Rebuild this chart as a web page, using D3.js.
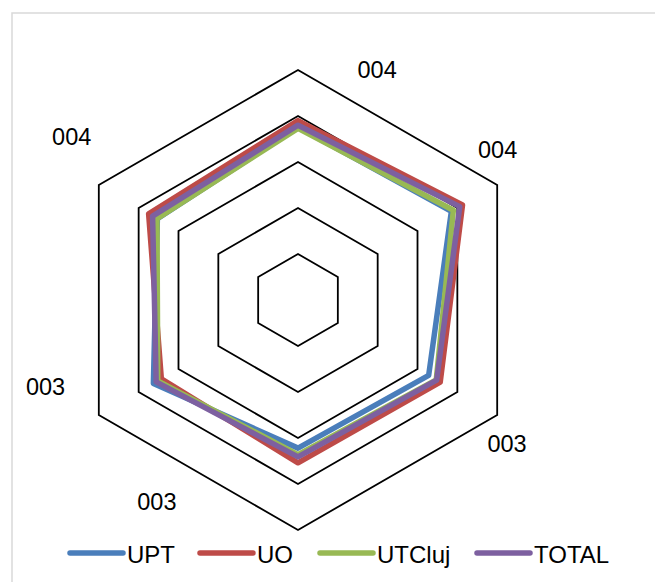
<!DOCTYPE html>
<html><head><meta charset="utf-8">
<script src="https://cdn.jsdelivr.net/npm/d3@7"></script>
<style>
html,body{margin:0;padding:0;background:#fff;}
svg{display:block;font-family:"Liberation Sans",Arial,sans-serif;}
</style></head>
<body><svg id="c" width="655" height="582"></svg>
<script>
// ---- data ----
const categories = ["004", "004", "003", "003", "003", "004"];
const seriesNames = ["UPT", "UO", "UTCluj", "TOTAL"];
const upt    = [3.76, 3.85, 3.28, 3.22, 3.63, 3.53];
const uo     = [3.90, 4.13, 3.57, 3.54, 3.43, 3.75];
const utcluj = [3.73, 3.90, 3.47, 3.36, 3.52, 3.54];
const total  = [3.80, 4.06, 3.48, 3.41, 3.56, 3.65];
const gridTicks = [1, 2, 3, 4, 5];
const colors = ["#4a7ebb", "#be4b48", "#98b954", "#7d60a0"];

// ---- layout ----
const W = 655, H = 582;
const cx = 298, cy = 300, R = 230;
// label placement: [angle (deg, clockwise from up), distance]
const labelPlace = [[19, 243], [53, 250], [124.6, 254], [215, 246], [251, 267], [305.8, 279]];

const svg = d3.select("#c");
svg.append("rect").attr("x", 12).attr("y", 13).attr("width", W).attr("height", H)
  .attr("fill", "#fff").attr("stroke", "#d9d9d9").attr("stroke-width", 1.5);

const r = d3.scaleLinear().domain([0, 5]).range([0, R]);
const n = categories.length;
const ang = d3.scaleLinear().domain([0, n]).range([0, 2 * Math.PI]);

const g = svg.append("g").attr("transform", `translate(${cx},${cy})`);
const radial = d3.lineRadial().angle((d, i) => ang(i)).radius(d => r(d)).curve(d3.curveLinearClosed);

// grid rings
g.selectAll(".ring").data(gridTicks).join("path")
  .attr("d", t => radial(categories.map(() => t)))
  .attr("fill", "none").attr("stroke", "#000").attr("stroke-width", 1.8)
  .attr("stroke-linejoin", "miter");

// series
const data = [upt, uo, utcluj, total];
g.selectAll(".series").data(data).join("path")
  .attr("d", d => radial(d))
  .attr("fill", "none")
  .attr("stroke", (d, i) => colors[i])
  .attr("stroke-width", 5.5)
  .attr("stroke-linejoin", "round");

// category labels
g.selectAll(".lab").data(categories).join("text")
  .attr("x", (d, i) => labelPlace[i][1] * Math.sin(labelPlace[i][0] * Math.PI / 180))
  .attr("y", (d, i) => -labelPlace[i][1] * Math.cos(labelPlace[i][0] * Math.PI / 180))
  .attr("text-anchor", "middle").attr("dominant-baseline", "central")
  .attr("font-size", 23.5).attr("fill", "#000")
  .text(d => d);

// legend
const legX = [70, 200, 320, 477];
const legY = 553;
const lg = svg.append("g");
seriesNames.forEach((s, i) => {
  lg.append("line").attr("x1", legX[i]).attr("x2", legX[i] + 53)
    .attr("y1", legY).attr("y2", legY)
    .attr("stroke", colors[i]).attr("stroke-width", 5.5).attr("stroke-linecap", "round");
  lg.append("text").attr("x", legX[i] + 57).attr("y", legY + 1)
    .attr("dominant-baseline", "central").attr("font-size", 24).attr("fill", "#000")
    .text(s);
});
</script></body></html>
